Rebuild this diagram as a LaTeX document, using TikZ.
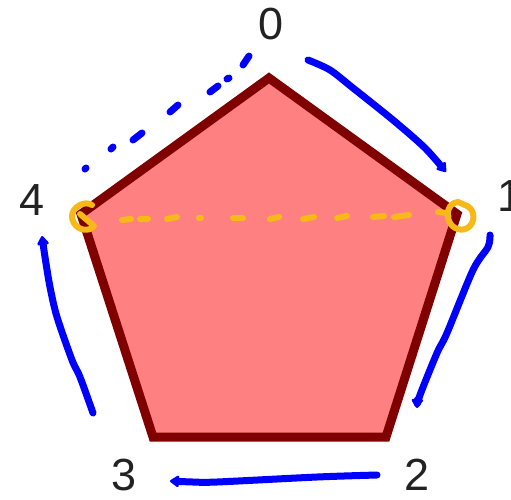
\documentclass[tikz,border=0pt]{standalone}
\usepackage{fontspec}
\setmainfont{Liberation Sans}
\usetikzlibrary{arrows.meta}
\definecolor{pfill}{HTML}{FF8080}
\definecolor{pedge}{HTML}{800000}
\definecolor{penblue}{HTML}{0000FF}
\definecolor{penorange}{HTML}{F7B917}
\definecolor{labcol}{HTML}{222222}
\tikzset{
  vlabel/.style={text=labcol,font=\fontsize{45}{54}\selectfont,inner sep=0pt},
  bluepen/.style={draw=penblue,line width=7pt,line cap=round,line join=round},
  bluehead/.style={-{Triangle[length=10pt,width=13pt,round]}},
  orangepen/.style={draw=penorange,line width=6pt,line cap=round,line join=round},
}
\begin{document}
\begin{tikzpicture}[x=1pt,y=-1pt]
\useasboundingbox (0,0) rectangle (511,499);
% vertices
\coordinate (v0) at (269,78);
\coordinate (v1) at (457,214);
\coordinate (v2) at (386,437);
\coordinate (v3) at (153,437);
\coordinate (v4) at (81,214);
\draw[fill=pfill,draw=pedge,line width=9pt,line join=miter] (v0) -- (v1) -- (v2) -- (v3) -- (v4) -- cycle;
% labels
\node[vlabel] (l0) at (271,24) {0};
\node[vlabel] (l1) at (510,196) {1};
\node[vlabel] (l2) at (417,475) {2};
\node[vlabel] (l3) at (124,475) {3};
\node[vlabel] (l4) at (32,200) {4};
% blue arrows
\draw[bluepen,bluehead] plot[smooth] coordinates {(308,60) (330,70) (353,88) (393,120) (425,148) (446,172)};
\draw[bluepen,bluehead] plot[smooth] coordinates {(490,235) (488,247) (473,270) (447,333) (437,353) (420,395) (417,408)};
\draw[bluepen,bluehead] plot[smooth] coordinates {(377,475) (317,477) (217,482) (193,482) (170,481)};
\draw[bluepen,bluehead] plot[smooth] coordinates {(93,413) (80,377) (72,360) (57,317) (50,287) (45,257) (42,236)};
% blue dash-dot
\foreach \a/\b in {{(85,169)}/{(86,168)},{(111,149)}/{(113,147)},{(133,140)}/{(142,133)},{(170,112)}/{(178,105)},{(210,92)}/{(218,86)},{(227,79)}/{(229,78)},{(243,65)}/{(249,56)}}
  \draw[bluepen] \a -- \b;
% orange dotted line
\foreach \a/\b in {{(122,220)}/{(131,219)},{(140,219)}/{(148,219)},{(167,219)}/{(177,217)},{(199,218)}/{(201,218)},{(233,218)}/{(243,218)},{(270,219)}/{(279,217)},{(303,219)}/{(314,217)},{(337,218)}/{(347,216)},{(373,217)}/{(384,216)},{(394,217)}/{(409,215)}}
  \draw[orangepen] \a -- \b;
% orange marks at vertices 4 and 1
\draw[orangepen] (92,205) .. controls (85,200) and (72,207) .. (72,216) .. controls (72,226) and (82,232) .. (90,229) -- (94,226) -- (80,214);
\draw[orangepen] (438,212) -- (446,213) (458,202) .. controls (448,203) and (446,214) .. (449,221) .. controls (452,229) and (463,233) .. (470,226) .. controls (476,219) and (474,208) .. (465,205) -- (458,202);
\end{tikzpicture}
\end{document}
